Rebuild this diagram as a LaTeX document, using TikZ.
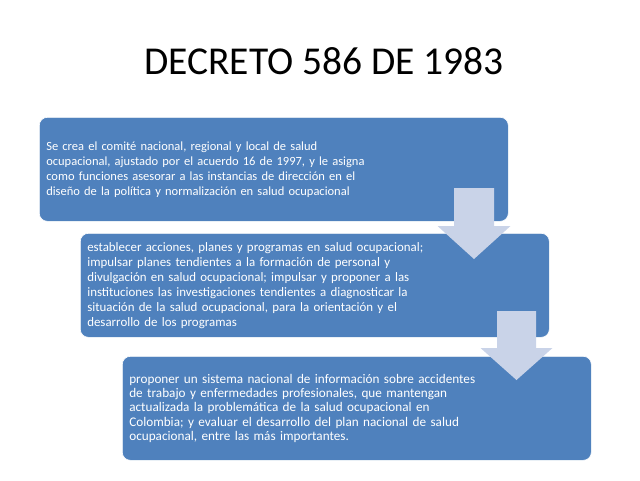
\documentclass[tikz,border=0pt]{standalone}
\usepackage{fontspec}
\setmainfont{Carlito}
\usetikzlibrary{calc}
\definecolor{boxblue}{RGB}{79,129,189}
\definecolor{arrowblue}{RGB}{201,211,232}
\tikzset{
  box/.style={fill=boxblue, draw=white, line width=0.6pt, rounded corners=8pt,
    minimum width=469pt, minimum height=104pt, inner xsep=7pt, inner ysep=0pt,
    text width=455pt, align=left, text=white, font=\fontsize{12.5}{15}\selectfont, anchor=north west},
  blockarrow/.style={fill=arrowblue, draw=none},
  title/.style={font=\fontsize{39.5}{44}\selectfont, text=black}
}
\begin{document}
\begin{tikzpicture}[x=1pt,y=-1pt]
\useasboundingbox (0,0) rectangle (640,480);
\node[title] (t) at (324,61) {DECRETO 586 DE 1983};
\node[box] (b1) at (39,117) {Se crea el comité nacional, regional y local de salud\\ocupacional, ajustado por el acuerdo 16 de 1997, y le asigna\\como funciones asesorar a las instancias de dirección en el\\diseño de la política y normalización en salud ocupacional};
\node[box, font=\fontsize{12.9}{15}\selectfont, inner xsep=6pt] (b2) at (80,233) {establecer acciones, planes y programas en salud ocupacional;\\impulsar planes tendientes a la formación de personal y\\divulgación en salud ocupacional; impulsar y proponer a las\\instituciones las investigaciones tendientes a diagnosticar la\\situación de la salud ocupacional, para la orientación y el\\desarrollo de los programas};
\node[box, font=\fontsize{13.2}{14.4}\selectfont, inner xsep=6pt] (b3) at (122,356) {proponer un sistema nacional de información sobre accidentes\\de trabajo y enfermedades profesionales, que mantengan\\actualizada la problemática de la salud ocupacional en\\Colombia; y evaluar el desarrollo del plan nacional de salud\\ocupacional, entre las más importantes.};
% block arrows
\coordinate (a1) at (474,188);
\coordinate (a2) at (516.5,311);
\fill[blockarrow] ($(a1)+(-20,0)$) -- ($(a1)+(20,0)$) -- ($(a1)+(20,38)$) -- ($(a1)+(36.5,38)$)
  -- ($(a1)+(0,71)$) -- ($(a1)+(-36.5,38)$) -- ($(a1)+(-20,38)$) -- cycle;
\fill[blockarrow] ($(a2)+(-19.5,0)$) -- ($(a2)+(19.5,0)$) -- ($(a2)+(19.5,37)$) -- ($(a2)+(36,37)$)
  -- ($(a2)+(0,69)$) -- ($(a2)+(-36,37)$) -- ($(a2)+(-19.5,37)$) -- cycle;
\end{tikzpicture}
\end{document}
